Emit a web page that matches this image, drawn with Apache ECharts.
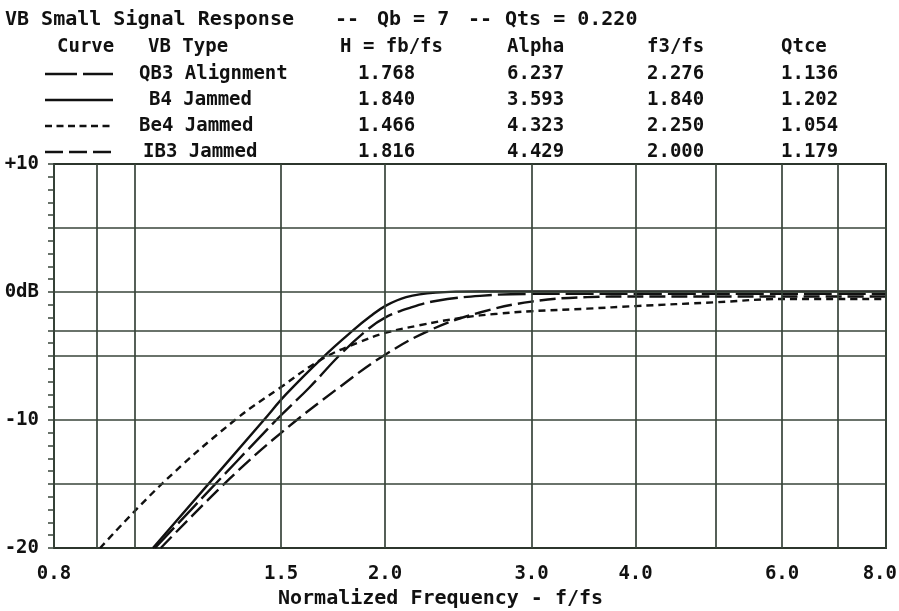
<!DOCTYPE html>
<html>
<head>
<meta charset="utf-8">
<script src="https://cdn.jsdelivr.net/npm/echarts@6/dist/echarts.min.js"></script>
<style>
html, body { margin: 0; padding: 0; background: #fff; }
#main { width: 899px; height: 611px; }
</style>
</head>
<body>
<div id="main"></div>
<script>
// table text
var headerCols = ['Curve', 'VB Type', 'H = fb/fs', 'Alpha', 'f3/fs', 'Qtce'];
var curveNames = ['QB3 Alignment', 'B4 Jammed', 'Be4 Jammed', 'IB3 Jammed'];
var hValues = ['1.768', '1.840', '1.466', '1.816'];
var alphaValues = ['6.237', '3.593', '4.323', '4.429'];
var f3Values = ['2.276', '1.840', '2.250', '2.000'];
var qtceValues = ['1.136', '1.202', '1.054', '1.179'];

// curves (f/fs, dB)
var qb3Freq = [1.058, 1.48, 1.62, 1.766, 1.90, 2.00, 2.15, 2.30, 2.60, 3.00, 8.00];
var qb3Db   = [-20, -10, -7.5, -4.9, -3.0, -2.0, -1.2, -0.7, -0.3, -0.15, -0.15];

var b4Freq = [1.052, 1.43, 1.52, 1.684, 1.83, 1.92, 2.00, 2.12, 2.30, 2.60, 8.0];
var b4Db   = [-20, -10, -8, -5.1, -3.0, -1.9, -1.1, -0.4, -0.05, 0.05, 0.05];

var be4Freq = [0.909, 1.078, 1.32, 1.494, 1.684, 1.866, 2.0, 2.2, 2.48, 2.73, 3.0, 3.5, 4.0, 5.0, 6.0, 8.0];
var be4Db   = [-20, -15, -10, -7.5, -5.2, -3.9, -3.2, -2.6, -2.0, -1.7, -1.5, -1.3, -1.1, -0.8, -0.55, -0.55];

var ib3Freq = [1.075, 1.30, 1.5, 1.766, 2.0, 2.28, 2.6, 3.0, 3.5, 4.0, 8.0];
var ib3Db   = [-20, -14.6, -11.0, -7.4, -4.9, -2.9, -1.6, -0.75, -0.4, -0.35, -0.35];

// axes
var gridFreqs = [0.8, 0.9, 1.0, 1.5, 2.0, 3.0, 4.0, 5.0, 6.0, 7.0, 8.0];
var freqLabels = { '0.8': '0.8', '1.5': '1.5', '2': '2.0', '3': '3.0', '4': '4.0', '6': '6.0', '8': '8.0' };
var gridDb = [5, 0, -3, -5, -10, -15];
var dbLabels = { '10': '+10', '0': '0dB', '-10': '-10', '-20': '-20' };

var FONT = '"DejaVu Sans Mono", "Liberation Mono", monospace';
var INK = '#111';
var GRIDC = '#38443a';

function pairs(fs, db) {
	return fs.map(function(f, i) { return [f, db[i]]; });
}

var chart = echarts.init(document.getElementById('main'));

// header table as plain texts
var graphics = [];
function txt(s, x, y, size) {
	graphics.push({
		type: 'text', x: x, y: y,
		style: { text: s, font: 'bold ' + (size || 19) + 'px ' + FONT, fill: INK, verticalAlign: 'middle' }
	});
}
txt('VB Small Signal Response', 5, 20, 20);
txt('--', 335, 20, 20);
txt('Qb = 7', 377, 20, 20);
txt('--', 468, 20, 20);
txt('Qts = 0.220', 505, 20, 20);

var headLeft = [57, 148, 340, 507, 647, 781];
headerCols.forEach(function(h, i) { txt(h, headLeft[i], 47); });

var rowY = [74, 100, 126, 152];
var nameLeft = [139, 149, 139, 143];
var dashes = [[32, 6], null, [7, 4.5], [18, 6]];
for (var i = 0; i < curveNames.length; i++) {
	txt(curveNames[i], nameLeft[i], rowY[i]);
	txt(hValues[i], 358, rowY[i]);
	txt(alphaValues[i], 507, rowY[i]);
	txt(f3Values[i], 647, rowY[i]);
	txt(qtceValues[i], 781, rowY[i]);
	graphics.push({
		type: 'line',
		shape: { x1: 45, y1: rowY[i], x2: 113, y2: rowY[i] },
		style: { stroke: INK, lineWidth: 2.5, lineDash: dashes[i] }
	});
}
txt('Normalized Frequency - f/fs', 278, 599, 20);

var xLines = gridFreqs.map(function(f) {
	var lab = freqLabels[String(f)];
	var label = { show: !!lab, formatter: lab || '', position: 'start', distance: 17,
		fontFamily: FONT, fontWeight: 'bold', fontSize: 19, color: INK };
	if (f === 8) {
		label.align = 'right';
		label.offset = [11, 0];
	}
	return { xAxis: f, label: label };
});
var yLines = gridDb.map(function(v) { return { yAxis: v }; });

function curve(name, fs, db, dash) {
	return {
		name: name,
		type: 'line',
		data: pairs(fs, db),
		symbol: 'none',
		smooth: 0.4,
		z: 3,
		lineStyle: { color: INK, width: 2.4, type: dash || 'solid' }
	};
}

var option = {
	animation: false,
	backgroundColor: '#fff',
	grid: {
		left: 54, right: 13, top: 164, bottom: 63,
		show: true, borderColor: '#2c352c', borderWidth: 2, backgroundColor: 'transparent'
	},
	xAxis: {
		type: 'log', logBase: 10, min: 0.8, max: 8,
		axisLine: { show: false },
		axisTick: { show: false },
		axisLabel: { show: false },
		splitLine: { show: false },
		minorSplitLine: { show: false }
	},
	yAxis: {
		type: 'value', min: -20, max: 10, interval: 1,
		axisLine: { show: true, lineStyle: { color: '#2c352c', width: 2 } },
		axisTick: { show: true, length: 6, lineStyle: { color: GRIDC, width: 1.5 } },
		axisLabel: {
			margin: 15, fontFamily: FONT, fontWeight: 'bold', fontSize: 19, color: INK,
			formatter: function(v) { return dbLabels[String(v)] || ''; }
		},
		splitLine: { show: false }
	},
	graphic: graphics,
	series: [
		{
			name: 'grid',
			type: 'line',
			data: [],
			z: 1,
			markLine: {
				silent: true,
				symbol: ['none', 'none'],
				animation: false,
				label: { show: false },
				lineStyle: { color: GRIDC, width: 1.7, type: 'solid' },
				data: xLines.concat(yLines)
			}
		},
		curve('QB3 Alignment', qb3Freq, qb3Db, [28, 6]),
		curve('B4 Jammed', b4Freq, b4Db),
		curve('Be4 Jammed', be4Freq, be4Db, [7, 5]),
		curve('IB3 Jammed', ib3Freq, ib3Db, [16, 6])
	]
};

chart.setOption(option);
</script>
</body>
</html>
